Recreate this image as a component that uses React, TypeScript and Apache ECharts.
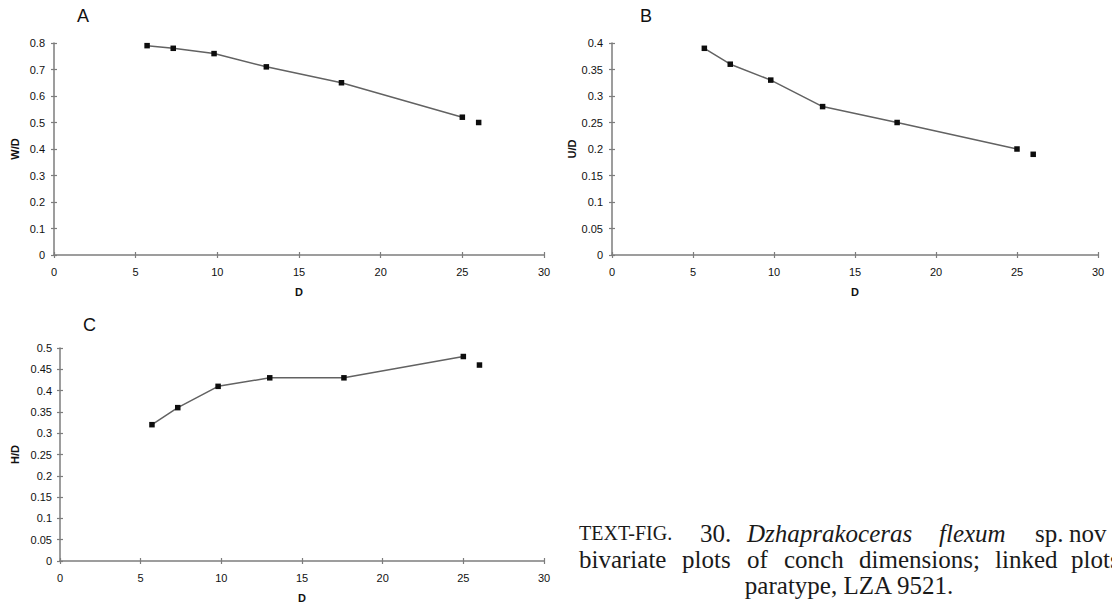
import React, { useEffect, useRef } from "react";
import * as echarts from "echarts";

// Shell diameter D for the linked measurements and the paratype
const D_LINKED = [5.7, 7.3, 9.8, 13.0, 17.6, 25.0];
const D_PARATYPE = [26.0];

// Panel A: whorl width / diameter
const WD_LINKED = [0.79, 0.78, 0.76, 0.71, 0.65, 0.52];
const WD_PARATYPE = [0.5];

// Panel B: umbilical width / diameter
const UD_LINKED = [0.39, 0.36, 0.33, 0.28, 0.25, 0.2];
const UD_PARATYPE = [0.19];

// Panel C: whorl height / diameter
const HD_LINKED = [0.32, 0.36, 0.41, 0.43, 0.43, 0.48];
const HD_PARATYPE = [0.46];

const PANEL_LABELS = ["A", "B", "C"];
const Y_NAMES = ["W/D", "U/D", "H/D"];
const Y_MAX = [0.8, 0.4, 0.5];
const Y_INTERVAL = [0.1, 0.05, 0.05];
const X_NAME = "D";
const X_MIN = 0;
const X_MAX = 30;
const X_INTERVAL = 5;

const CAPTION_LINE1 = [
  { t: "TEXT-FIG.", x: 579, small: true },
  { t: "30.", x: 700 },
  { t: "Dzhaprakoceras", x: 747, italic: true },
  { t: "flexum", x: 939, italic: true },
  { t: "sp.", x: 1035 },
  { t: "nov", x: 1069 },
];
const CAPTION_LINE2 = [
  { t: "bivariate", x: 579 },
  { t: "plots", x: 682 },
  { t: "of", x: 747 },
  { t: "conch", x: 784 },
  { t: "dimensions;", x: 859 },
  { t: "linked", x: 995 },
  { t: "plots", x: 1071 },
];
const CAPTION_LINE3 = "paratype, LZA 9521.";

const AXIS_COLOR = "#7d7d7d";
const LABEL_COLOR = "#111111";
const SANS = "Liberation Sans, Arial, sans-serif";
const SERIF = "Liberation Serif, Times New Roman, serif";

export default function App() {
  const ref = useRef<HTMLDivElement>(null);

  useEffect(() => {
    if (!ref.current) return;
    const chart = echarts.init(ref.current, undefined, { renderer: "svg" });

    const grids = [
      { left: 54, top: 43, width: 490, height: 212 },
      { left: 612, top: 43, width: 486, height: 212 },
      { left: 60, top: 348, width: 484, height: 213 },
    ];
    const yNameGap = [34, 34, 40];
    const yLabelMargin = [9, 9, 8];

    const xAxes: any[] = [];
    const yAxes: any[] = [];
    grids.forEach((_, i) => {
      const baseX = {
        type: "value",
        gridIndex: i,
        min: X_MIN,
        max: X_MAX,
        interval: X_INTERVAL,
        splitLine: { show: false },
      };
      xAxes.push({
        ...baseX,
        position: "bottom",
        name: X_NAME,
        nameLocation: "middle",
        nameGap: 31,
        nameTextStyle: { fontFamily: SANS, fontSize: 11, fontWeight: "bold", color: LABEL_COLOR },
        axisLine: { show: true, onZero: false, lineStyle: { color: AXIS_COLOR, width: 1.5 } },
        axisTick: { show: true, inside: false, length: 3, lineStyle: { color: AXIS_COLOR, width: 1.2 } },
        axisLabel: { show: true, margin: 11, fontFamily: SANS, fontSize: 11, color: LABEL_COLOR },
      });
      xAxes.push({
        ...baseX,
        position: "bottom",
        axisLine: { show: false },
        axisTick: { show: true, inside: true, length: 3, lineStyle: { color: AXIS_COLOR, width: 1.2 } },
        axisLabel: { show: false },
      });
      const baseY = {
        type: "value",
        gridIndex: i,
        min: 0,
        max: Y_MAX[i],
        interval: Y_INTERVAL[i],
        splitLine: { show: false },
      };
      yAxes.push({
        ...baseY,
        position: "left",
        name: Y_NAMES[i],
        nameLocation: "middle",
        nameRotate: 90,
        nameGap: yNameGap[i],
        nameTextStyle: { fontFamily: SANS, fontSize: 11, fontWeight: "bold", color: LABEL_COLOR },
        axisLine: { show: true, onZero: false, lineStyle: { color: AXIS_COLOR, width: 1.5 } },
        axisTick: { show: true, inside: false, length: 3, lineStyle: { color: AXIS_COLOR, width: 1.2 } },
        axisLabel: { show: true, margin: yLabelMargin[i], fontFamily: SANS, fontSize: 11, color: LABEL_COLOR },
      });
      yAxes.push({
        ...baseY,
        position: "left",
        offset: 0,
        axisLine: { show: false },
        axisTick: { show: true, inside: true, length: 3, lineStyle: { color: AXIS_COLOR, width: 1.2 } },
        axisLabel: { show: false },
      });
    });

    const linked = [WD_LINKED, UD_LINKED, HD_LINKED];
    const paratype = [WD_PARATYPE, UD_PARATYPE, HD_PARATYPE];
    const series: any[] = [];
    linked.forEach((vals, i) => {
      series.push({
        type: "line",
        xAxisIndex: i * 2,
        yAxisIndex: i * 2,
        data: D_LINKED.map((d, k) => [d, vals[k]]),
        symbol: "rect",
        symbolSize: 5.5,
        showAllSymbol: true,
        lineStyle: { color: "#626262", width: 1.5 },
        itemStyle: { color: "#0d0d0d" },
        z: 3,
      });
      series.push({
        type: "scatter",
        xAxisIndex: i * 2,
        yAxisIndex: i * 2,
        data: D_PARATYPE.map((d, k) => [d, paratype[i][k]]),
        symbol: "rect",
        symbolSize: 5.5,
        itemStyle: { color: "#0d0d0d", opacity: 1 },
        z: 3,
      });
    });

    const panelPos = [
      { x: 77, y: 16 },
      { x: 640, y: 16 },
      { x: 83, y: 325 },
    ];
    const graphics: any[] = PANEL_LABELS.map((t, i) => ({
      type: "text",
      x: panelPos[i].x,
      y: panelPos[i].y,
      style: {
        text: t,
        fontFamily: SANS,
        fontSize: 18,
        fill: "#111",
        textVerticalAlign: "middle",
      },
    }));

    const capSize = 25;
    CAPTION_LINE1.forEach((w) => {
      graphics.push({
        type: "text",
        x: w.x,
        y: 533,
        style: {
          text: w.t,
          fontFamily: SERIF,
          fontSize: w.small ? 20 : capSize,
          fontStyle: w.italic ? "italic" : "normal",
          fill: "#1a1a1a",
          textVerticalAlign: "middle",
        },
      });
    });
    CAPTION_LINE2.forEach((w) => {
      graphics.push({
        type: "text",
        x: w.x,
        y: 559,
        style: {
          text: w.t,
          fontFamily: SERIF,
          fontSize: capSize,
          fill: "#1a1a1a",
          textVerticalAlign: "middle",
        },
      });
    });
    graphics.push({
      type: "text",
      x: 849,
      y: 585,
      style: {
        text: CAPTION_LINE3,
        fontFamily: SERIF,
        fontSize: capSize,
        fill: "#1a1a1a",
        textAlign: "center",
        textVerticalAlign: "middle",
      },
    });

    chart.setOption({
      animation: false,
      backgroundColor: "#ffffff",
      grid: grids,
      xAxis: xAxes,
      yAxis: yAxes,
      series,
      graphic: graphics,
    });

    return () => chart.dispose();
  }, []);

  return (
    <div
      ref={ref}
      style={{ position: "absolute", left: 0, top: 0, width: 1112, height: 604 }}
    />
  );
}
